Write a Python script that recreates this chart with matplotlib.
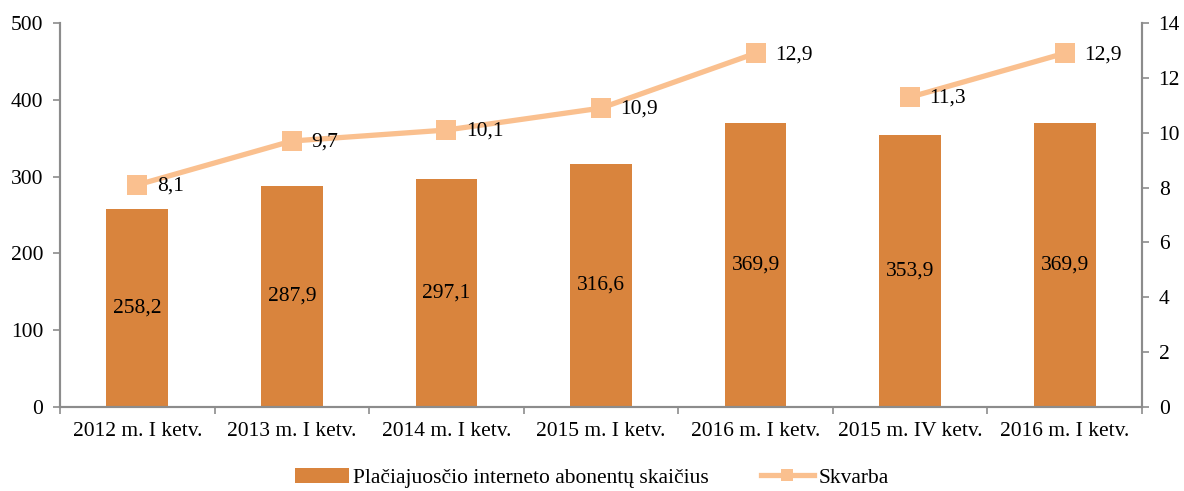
import numpy as np
import matplotlib
matplotlib.use("Agg")
import matplotlib.pyplot as plt

plt.rcParams['font.family'] = ['Liberation Serif', 'DejaVu Serif']
plt.rcParams['font.size'] = 15.5

categories = ["2012 m. I ketv.", "2013 m. I ketv.", "2014 m. I ketv.",
              "2015 m. I ketv.", "2016 m. I ketv.", "2015 m. IV ketv.",
              "2016 m. I ketv."]
subscribers = [258.2, 287.9, 297.1, 316.6, 369.9, 353.9, 369.9]
penetration = [8.1, 9.7, 10.1, 10.9, 12.9, 11.3, 12.9]
# line is split into two runs: annual series, then quarterly comparison
segments = [(0, 5), (5, 7)]

bar_color = "#D9843D"
line_color = "#FAC08F"
axis_color = "#8C8C8C"

fig = plt.figure(figsize=(11.84, 4.91), dpi=100)
ax = fig.add_axes([0.0507, 0.171, 0.9138, 0.782])
ax2 = ax.twinx()

x = np.arange(len(categories))
bars = ax.bar(x, subscribers, width=0.4, color=bar_color,
              label="Plačiajuosčio interneto abonentų skaičius", zorder=2)
for xi, v in zip(x, subscribers):
    ax.text(xi, v / 2, f"{v:.1f}".replace(".", ","), ha="center",
            va="center")

for i, (a, b) in enumerate(segments):
    ax2.plot(x[a:b], penetration[a:b], color=line_color, lw=3.8,
             marker="s", markersize=14, markeredgewidth=0,
             label="Skvarba" if i == 0 else None, zorder=3)
for xi, v in zip(x, penetration):
    ax2.annotate(f"{v:.1f}".replace(".", ","), (xi, v),
                 xytext=(14, -1), textcoords="offset points",
                 ha="left", va="center")

ax.set_xlim(-0.5, len(categories) - 0.5)
ax.set_ylim(0, 500)
ax.set_yticks(np.arange(0, 501, 100))
ax2.set_ylim(0, 14)
ax2.set_yticks(np.arange(0, 15, 2))
ax.set_xticks(x)
ax.set_xticklabels(categories)
ax.set_xticks(np.arange(-0.5, len(categories), 1), minor=True)
ax.tick_params(axis="x", which="major", length=0, pad=11)
ax.tick_params(axis="x", which="minor", length=5, color=axis_color,
               width=1.2)
ax.tick_params(axis="y", length=5, color=axis_color, width=1.2, pad=7)
ax2.tick_params(axis="y", length=5, color=axis_color, width=1.2, pad=7)

for a in (ax, ax2):
    a.spines["top"].set_visible(False)
    for s in ("left", "right", "bottom"):
        a.spines[s].set_color(axis_color)
        a.spines[s].set_linewidth(1.5)

h1, l1 = ax.get_legend_handles_labels()
h2, l2 = ax2.get_legend_handles_labels()
fig.legend(h1 + h2, l1 + l2, loc="center", bbox_to_anchor=(0.5, 0.027),
           ncol=2, frameon=False, columnspacing=2.4, handlelength=2.5,
           handletextpad=0.2, markerscale=0.6, borderpad=0.1)

fig.savefig("out.png", dpi=100)
